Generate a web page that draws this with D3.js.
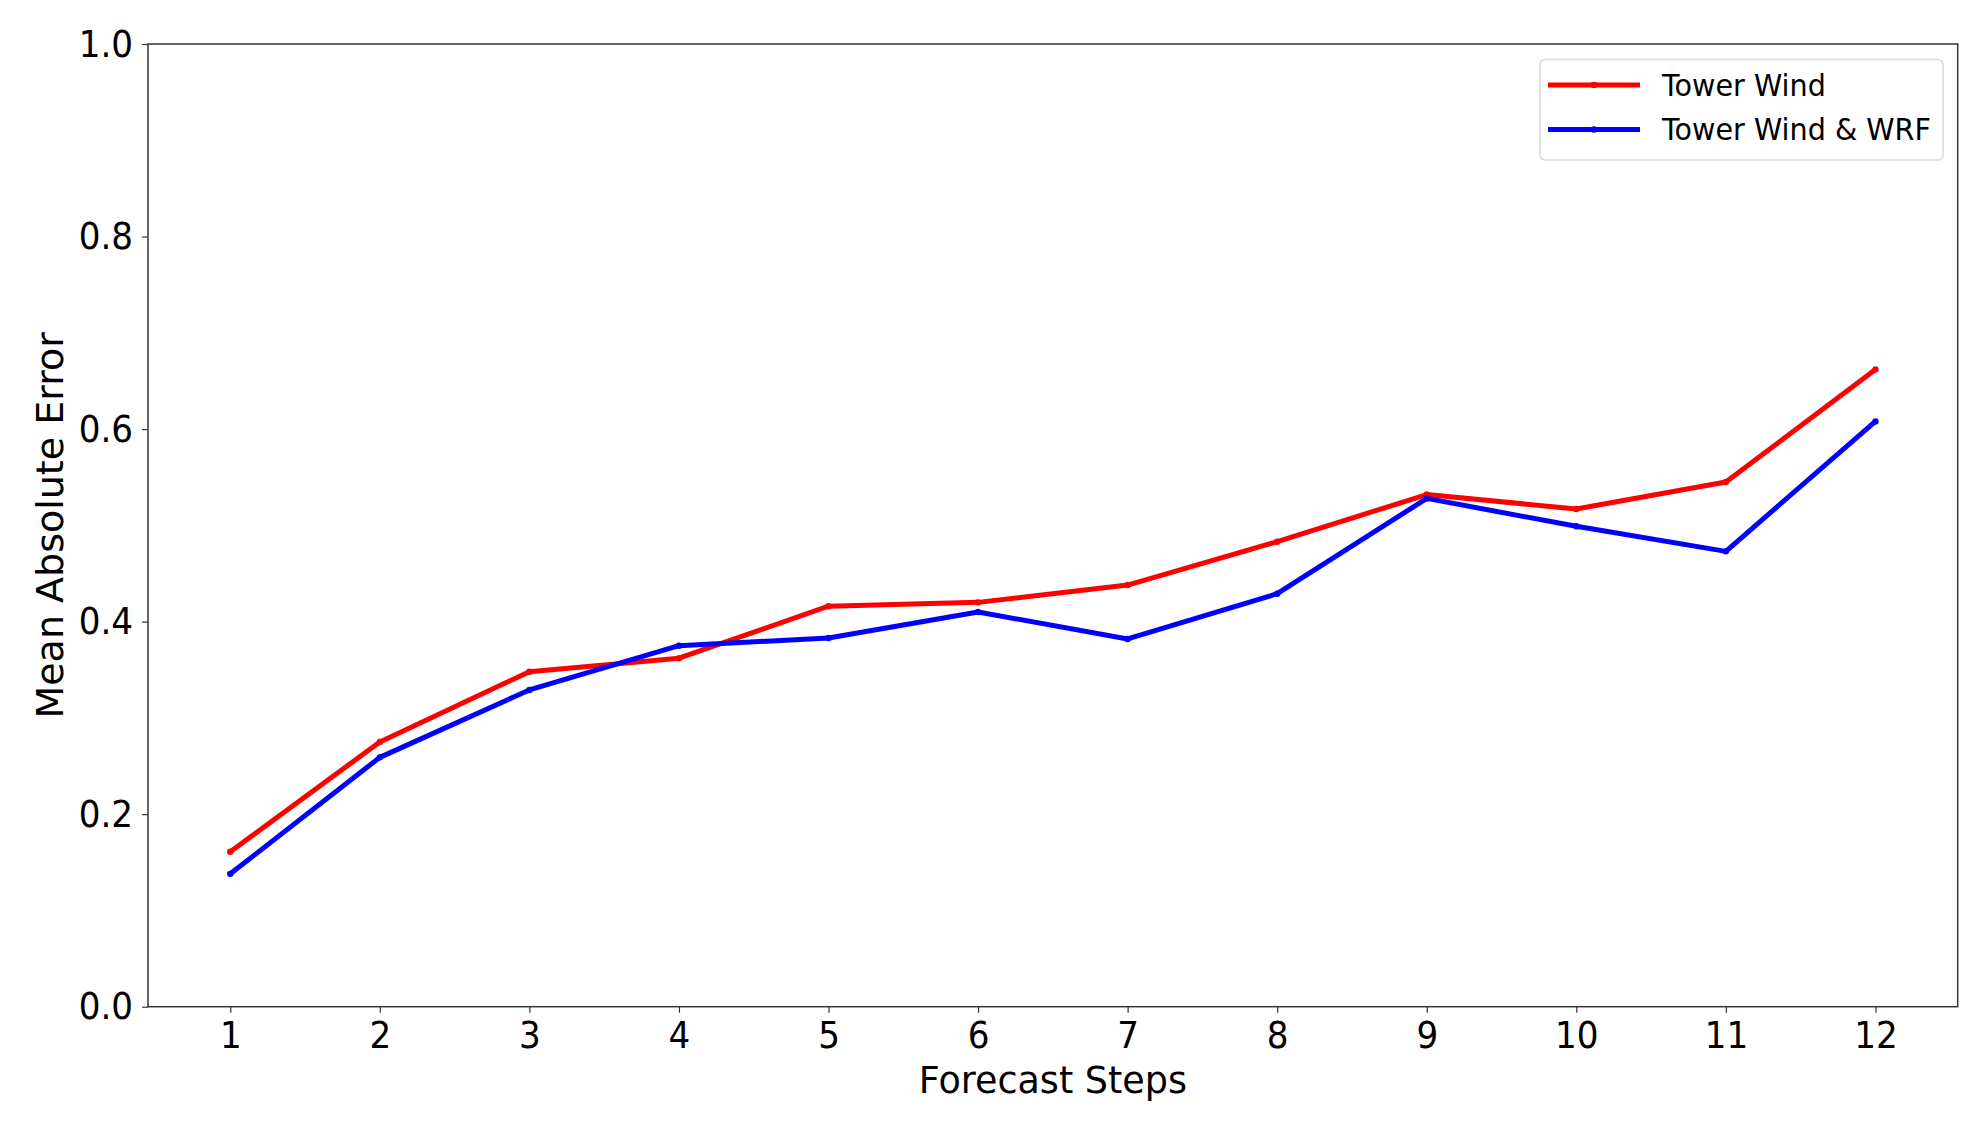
<!DOCTYPE html>
<html>
<head>
<meta charset="utf-8">
<script src="https://cdn.jsdelivr.net/npm/d3@7"></script>
<style>
  html, body { margin: 0; padding: 0; background: #fff; }
  svg { display: block; font-family: "DejaVu Sans", sans-serif; }
</style>
</head>
<body>
<svg id="chart" width="1980" height="1126"></svg>
<script>
const steps = [1, 2, 3, 4, 5, 6, 7, 8, 9, 10, 11, 12];
const towerWind = [0.161, 0.275, 0.348, 0.362, 0.416, 0.420, 0.438, 0.483, 0.532, 0.517, 0.545, 0.662];
const towerWindWRF = [0.138, 0.259, 0.329, 0.375, 0.383, 0.410, 0.382, 0.429, 0.528, 0.499, 0.473, 0.608];
const yTicks = [0.0, 0.2, 0.4, 0.6, 0.8, 1.0];
const seriesNames = ["Tower Wind", "Tower Wind & WRF"];
const seriesColors = ["#ff0000", "#0000ff"];
const xLabel = "Forecast Steps";
const yLabel = "Mean Absolute Error";

const margin = { left: 148, right: 1980 - 1957.7, top: 44, bottom: 1126 - 1006.7 };
const W = 1980, H = 1126;
const svg = d3.select("#chart");

const x = d3.scaleLinear().domain([0.45, 12.55]).range([margin.left, W - margin.right]);
const y = d3.scaleLinear().domain([0, 1]).range([H - margin.bottom, margin.top]);

const axisColor = "#333";

// x axis
const gx = svg.append("g")
  .attr("transform", `translate(0,${y(0)})`)
  .call(d3.axisBottom(x).tickValues(steps).tickFormat(d3.format("d")).tickSizeOuter(0).tickSize(6).tickPadding(8));
gx.select(".domain").remove();
gx.selectAll(".tick line").attr("stroke", axisColor).attr("stroke-width", 1.2);
gx.selectAll(".tick text").attr("font-size", 38).attr("fill", "#000")
  .attr("font-family", "DejaVu Sans")
  .attr("transform", "scale(0.9,1)");

// y axis
const gy = svg.append("g")
  .attr("transform", `translate(${x(0.45)},0)`)
  .call(d3.axisLeft(y).tickValues(yTicks).tickFormat(d3.format(".1f")).tickSizeOuter(0).tickSize(6).tickPadding(9));
gy.select(".domain").remove();
gy.selectAll(".tick line").attr("stroke", axisColor).attr("stroke-width", 1.2);
gy.selectAll(".tick text").attr("font-size", 38).attr("fill", "#000")
  .attr("font-family", "DejaVu Sans")
  .attr("x", -15 / 0.9)
  .attr("transform", "scale(0.9,1)");

// frame
svg.append("rect")
  .attr("x", x(0.45)).attr("y", y(1))
  .attr("width", x(12.55) - x(0.45)).attr("height", y(0) - y(1))
  .attr("fill", "none").attr("stroke", axisColor).attr("stroke-width", 1.5);

// lines
const seriesData = [towerWind, towerWindWRF];
const line = d3.line().x((d, i) => x(steps[i])).y(d => y(d));
seriesData.forEach((vals, k) => {
  svg.append("path")
    .datum(vals)
    .attr("d", line)
    .attr("fill", "none")
    .attr("stroke", seriesColors[k])
    .attr("stroke-width", 5)
    .attr("stroke-linejoin", "round")
    .attr("stroke-linecap", "butt");
  svg.append("g").selectAll("circle")
    .data(vals)
    .join("circle")
    .attr("cx", (d, i) => x(steps[i]))
    .attr("cy", d => y(d))
    .attr("r", 3.2)
    .attr("fill", seriesColors[k]);
});

// axis labels
svg.append("text")
  .attr("x", (x(0.45) + x(12.55)) / 2)
  .attr("y", 1093)
  .attr("text-anchor", "middle")
  .attr("font-size", 36.5)
  .attr("fill", "#000")
  .text(xLabel);

svg.append("text")
  .attr("transform", `translate(63,${(y(0) + y(1)) / 2}) rotate(-90)`)
  .attr("text-anchor", "middle")
  .attr("font-size", 38)
  .attr("fill", "#000")
  .text(yLabel);

// legend
const lg = svg.append("g");
lg.append("rect")
  .attr("x", 1540).attr("y", 59.5)
  .attr("width", 403).attr("height", 100.5)
  .attr("rx", 5).attr("ry", 5)
  .attr("fill", "#fff").attr("fill-opacity", 0.8)
  .attr("stroke", "#d9d9d9").attr("stroke-width", 1.5);
const legendRowsY = [85, 129.5];
seriesNames.forEach((name, k) => {
  lg.append("line")
    .attr("x1", 1548).attr("x2", 1640)
    .attr("y1", legendRowsY[k]).attr("y2", legendRowsY[k])
    .attr("stroke", seriesColors[k]).attr("stroke-width", 5);
  lg.append("circle")
    .attr("cx", 1594).attr("cy", legendRowsY[k]).attr("r", 3.2)
    .attr("fill", seriesColors[k]);
  lg.append("text")
    .attr("transform", `translate(1662,${legendRowsY[k] + 10.5}) scale(0.97,1)`)
    .attr("font-size", 29.5)
    .attr("fill", "#000")
    .text(name);
});
</script>
</body>
</html>
